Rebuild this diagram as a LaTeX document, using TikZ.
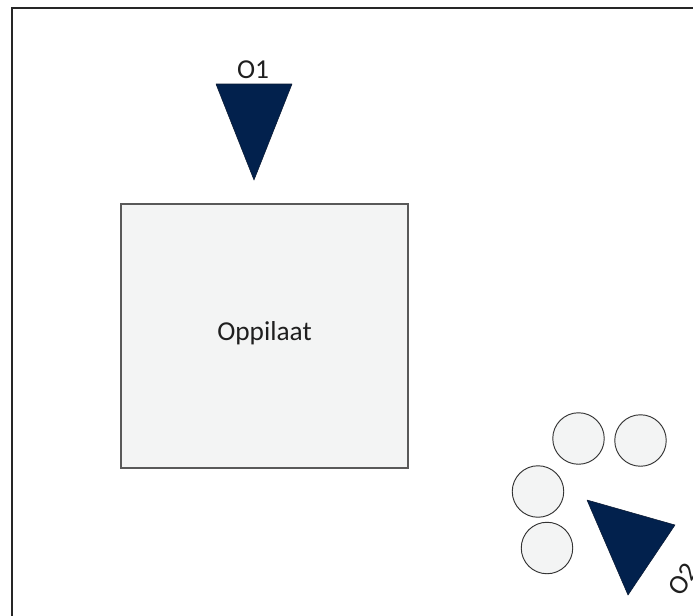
\documentclass[tikz,border=0pt]{standalone}
\usepackage{fontspec}
\setmainfont{Carlito}
\begin{document}
\begin{tikzpicture}[x=0.75pt,y=-0.75pt,
  lbl/.style={font=\fontsize{20.5}{24}\selectfont, text=black!88, inner sep=0pt},
  tri/.style={fill={rgb,255:red,2;green,33;blue,77}, draw={rgb,255:red,10;green,25;blue,50}, line width=0.4pt, line join=round},
  disc/.style={circle, draw=black!80, line width=0.7pt, fill={rgb,255:red,243;green,244;blue,244}, minimum size=51.5*0.75pt, inner sep=0pt},
  roombox/.style={draw=black!65, line width=0.8pt, fill={rgb,255:red,243;green,244;blue,244}, minimum width=287*0.75pt, minimum height=264*0.75pt, inner sep=0pt}]
\useasboundingbox (0,0) rectangle (693,615);
\clip (0,0) rectangle (693,615);
\fill[white] (0,0) rectangle (693,615);
% outer frame
\draw[line width=1.2pt, draw=black!85] (12,8) rectangle (720,640);
% room
\node[roombox] (room) at (264.5,336) {};
\node[lbl] (roomtext) at (264.5,333) {Oppilaat};
% O1
\coordinate (o1a) at (216,84);
\coordinate (o1b) at (292,84);
\coordinate (o1c) at (254,180);
\draw[tri] (o1a) -- (o1b) -- (o1c) -- cycle;
\node[lbl, anchor=base] (o1) at (253,78) {O1};
% circles
\node[disc] (c1) at (578.5,438.5) {};
\node[disc] (c2) at (640.5,440.5) {};
\node[disc] (c3) at (538,491.5) {};
\node[disc] (c4) at (547,548) {};
% O2
\coordinate (o2a) at (587,500);
\coordinate (o2b) at (675,525);
\coordinate (o2c) at (628,595);
\draw[tri] (o2a) -- (o2b) -- (o2c) -- cycle;
\node[lbl, rotate=56] (o2) at (683,579) {O2};
\end{tikzpicture}
\end{document}
